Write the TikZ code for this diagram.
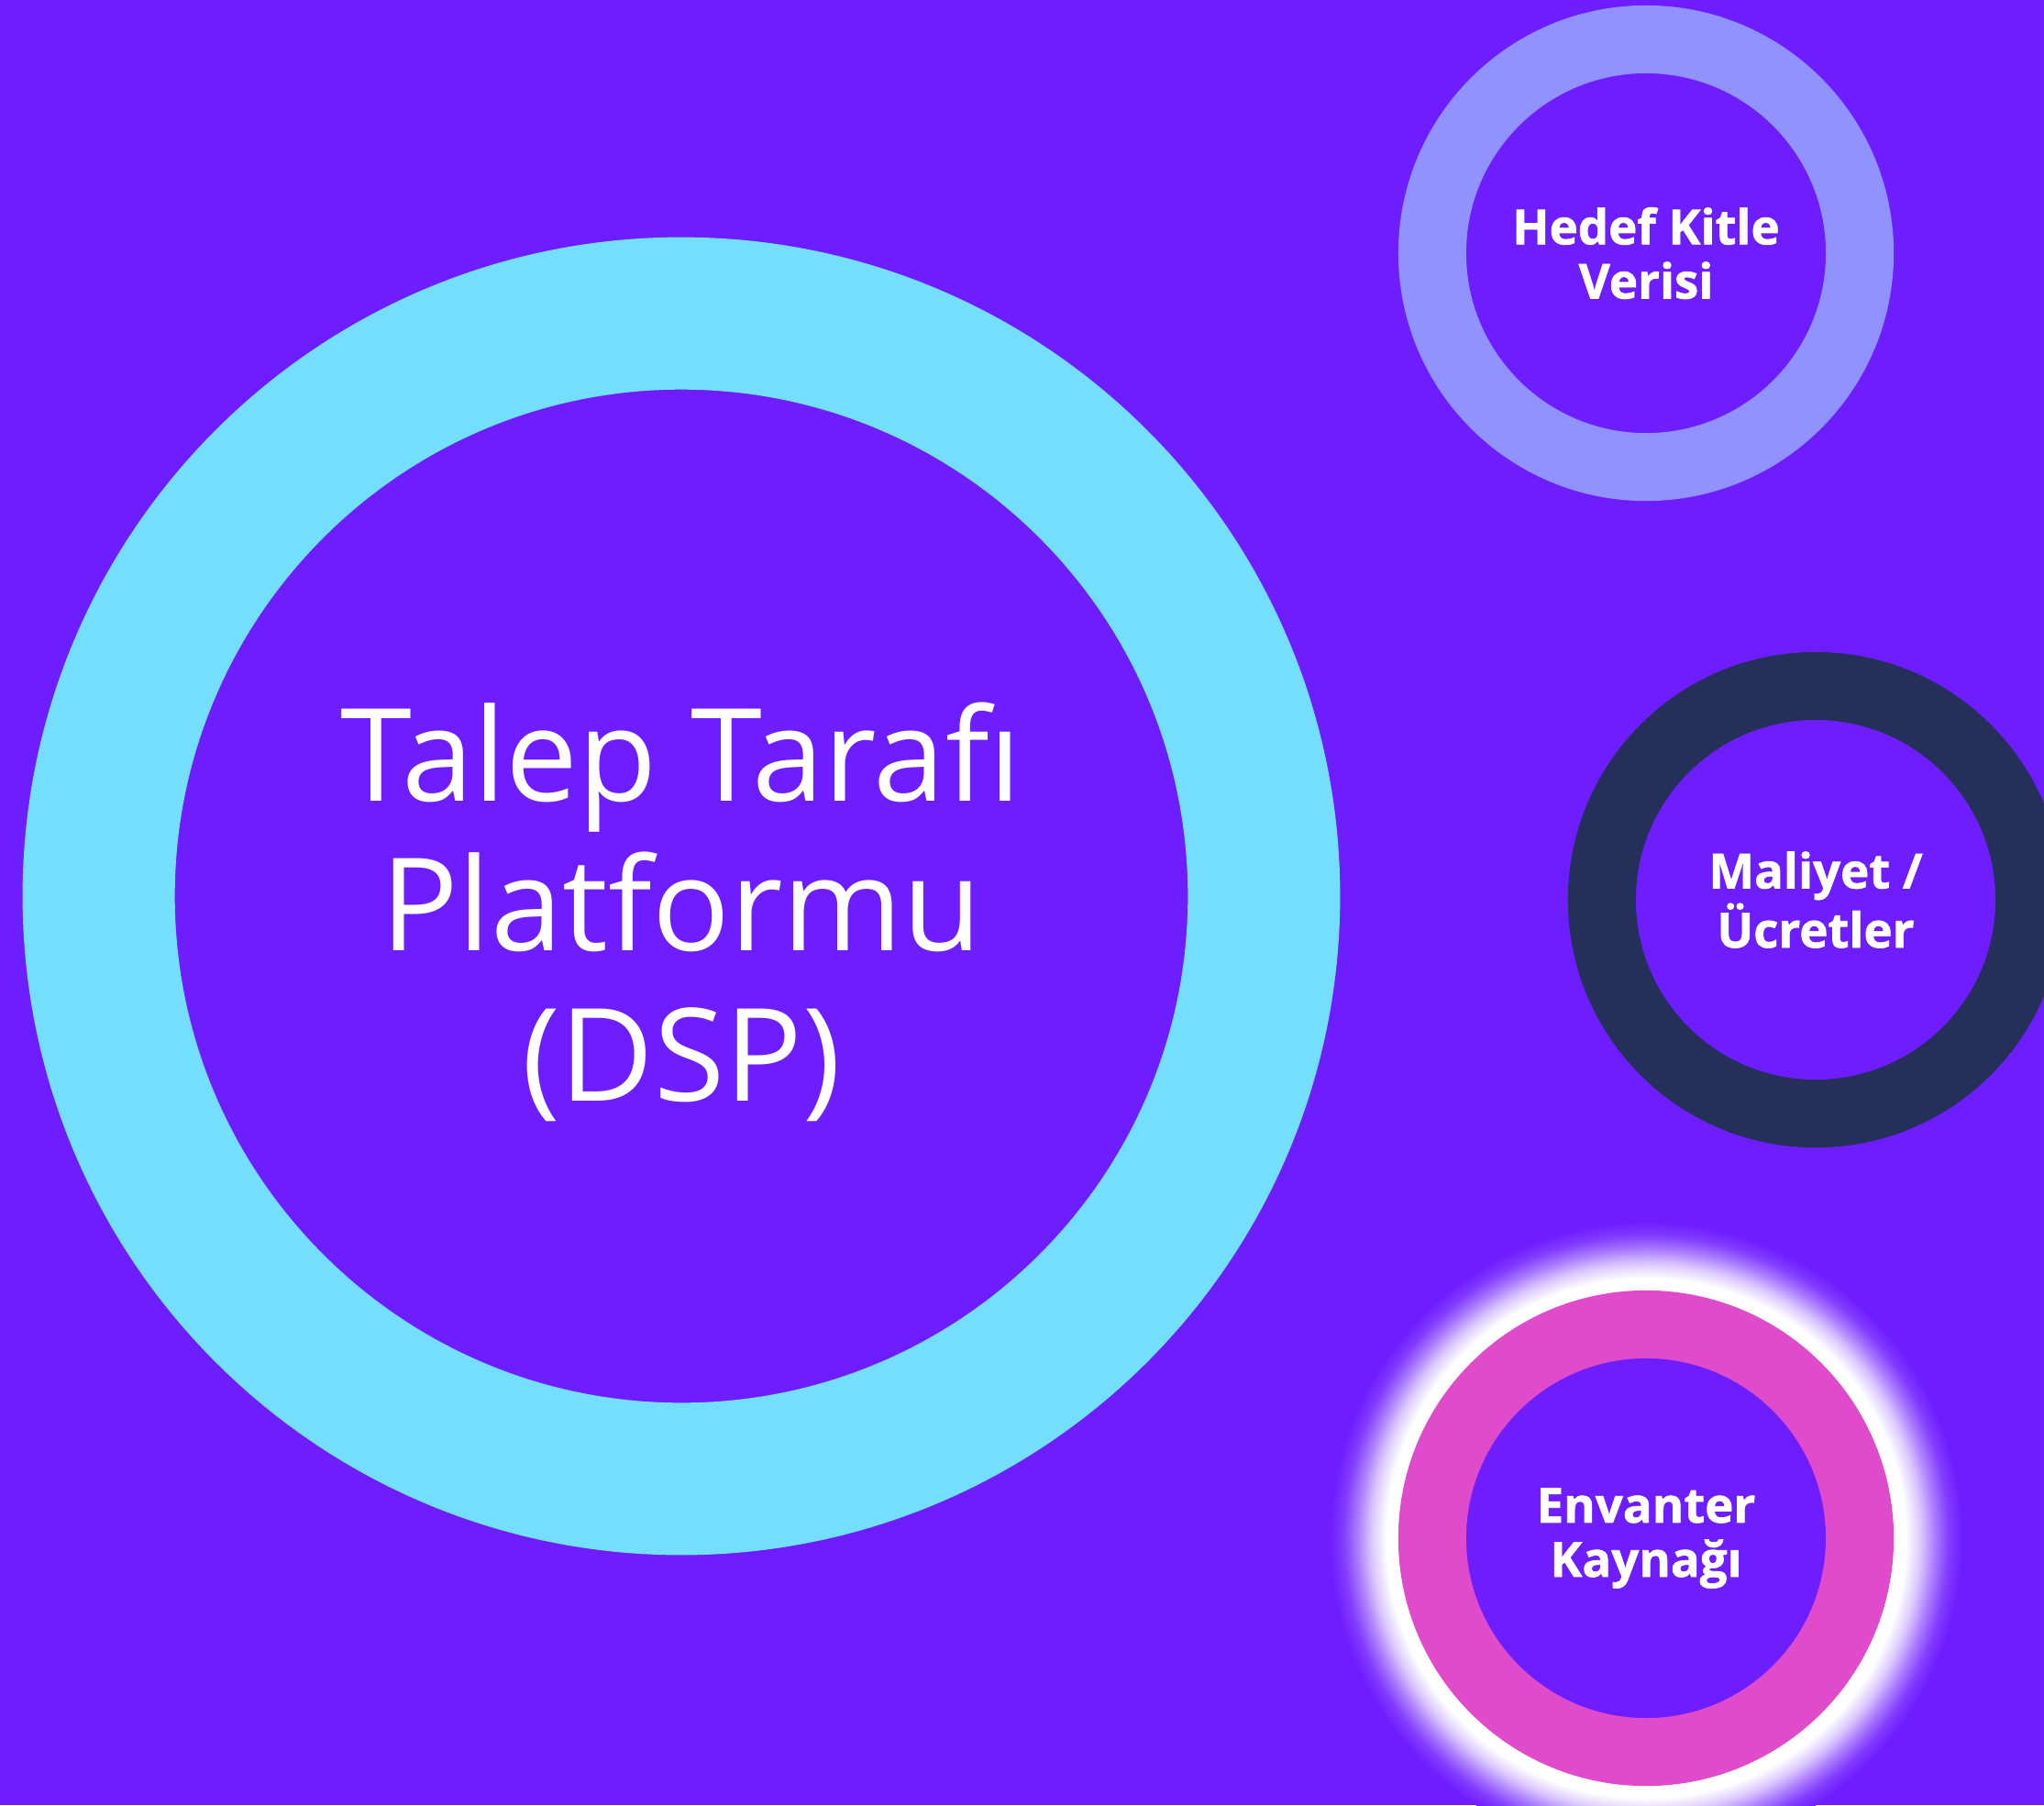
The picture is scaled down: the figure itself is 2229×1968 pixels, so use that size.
\documentclass[tikz,border=0pt]{standalone}
\usepackage{fontspec}
\setmainfont{Open Sans}
\newfontfamily\heavyfont{Open Sans}[BoldFeatures={FakeBold=1.2}]

\definecolor{bgpurple}{HTML}{6E1DFE}
\definecolor{ringcyan}{HTML}{74DEFD}
\definecolor{ringlavender}{HTML}{8F92FF}
\definecolor{ringnavy}{HTML}{243059}
\definecolor{ringpink}{HTML}{E04BCB}

\pgfdeclareradialshading{glow}{\pgfpoint{0bp}{0bp}}{%
color(0bp)=(white); color(20.5bp)=(white); color(21.7bp)=(white!75!bgpurple);
color(22.8bp)=(white!42!bgpurple); color(23.9bp)=(white!14!bgpurple);
color(25bp)=(bgpurple); color(50bp)=(bgpurple)}

\begin{document}
\begin{tikzpicture}
[x=0.01cm, y=-0.01cm, inner sep=0pt, outer sep=0pt,
ring/.style={circle, draw, fill=bgpurple, minimum size=4.66cm, line width=0.74cm},
bigring/.style={circle, draw=ringcyan, minimum size=12.7cm, line width=1.66cm},
title/.style={text=white, align=center, font=\fontsize{40}{46.5}\selectfont},
small/.style={text=white, align=center, font=\heavyfont\bfseries\fontsize{15}{16.8}\selectfont}]
\useasboundingbox (0,0) rectangle (2229,1968);
\clip (0,0) rectangle (2229,1968);
\fill[bgpurple] (0,0) rectangle (2229,1968);

% main platform
\node[bigring] (dsp) at (743,977) {};
\node[title, yshift=-0.17cm] (dsptext) at (dsp.center) {Talep Tarafı\\Platformu\\(DSP)};

% side circles
\node[ring, draw=ringlavender, small] (audience) at (1795,276) {Hedef Kitle\\Verisi};
\node[ring, draw=ringnavy, small] (cost) at (1980,981) {Maliyet /\\Ücretler};

\node[circle, minimum size=6.9cm, shading=glow] (glow) at (1795,1677) {};
\node[ring, draw=ringpink, small] (inventory) at (glow.center) {Envanter\\Kaynağı};
\end{tikzpicture}
\end{document}
